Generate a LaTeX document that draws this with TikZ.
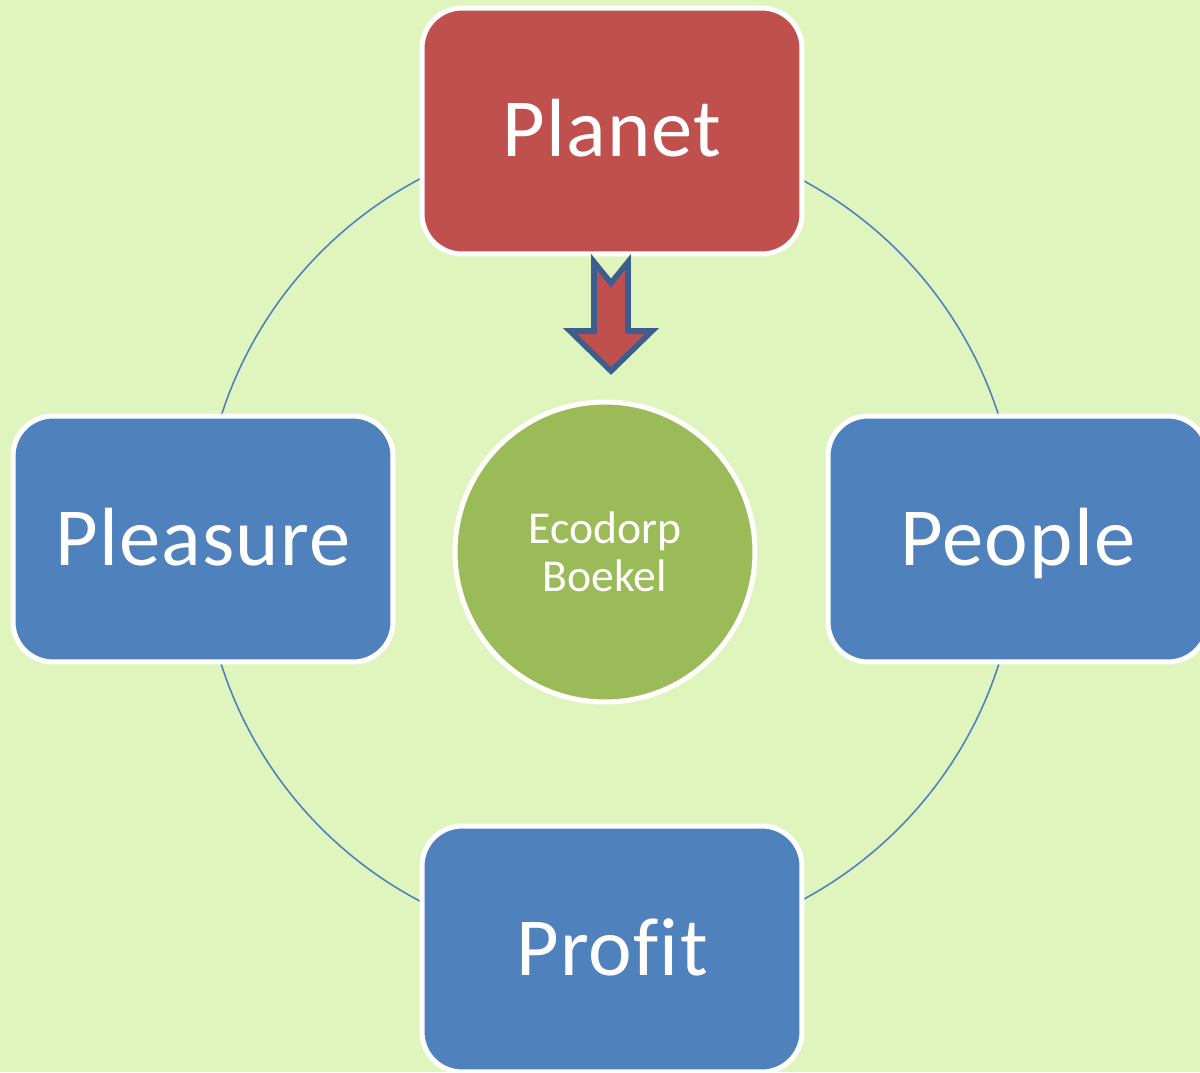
\documentclass[tikz,border=0pt]{standalone}
\usepackage{fontspec}
\setmainfont{Carlito}
\newfontfamily\pfont{Carlito}[Ligatures=NoCommon, LetterSpace=1.5]
\definecolor{bgGreen}{HTML}{E0F5BE}
\definecolor{planetRed}{HTML}{C0504D}
\definecolor{boxBlue}{HTML}{4F81BD}
\definecolor{coreGreen}{HTML}{9BBB59}
\definecolor{arrowEdge}{HTML}{3B5E8E}
\tikzset{
  pillar/.style={draw=white, line width=0.1cm, rounded corners=0.8cm,
    minimum width=7.6cm, minimum height=4.92cm, text=white,
    text height=1.3cm, text depth=0.26cm,
    font=\pfont\fontsize{47}{56}\selectfont},
  core/.style={circle, draw=white, line width=0.1cm, fill=coreGreen,
    minimum size=6cm, text=white, align=center,
    font=\fontsize{26}{27.5}\selectfont}
}
\begin{document}
\begin{tikzpicture}[x=0.02cm, y=-0.02cm]
  % achtergrond
  \fill[bgGreen] (0,0) rectangle (1200,1072);
  \useasboundingbox (0,0) rectangle (1200,1072);
  \clip (0,0) rectangle (1200,1072);

  % ring achter de blokken
  \draw[boxBlue, line width=0.9pt] (610,540) circle (408);

  % de vier P's
  \node[pillar, fill=planetRed] (planet) at (612,131) {Planet};
  \node[pillar, fill=boxBlue] (pleasure) at (203,539) {Pleasure};
  \node[pillar, fill=boxBlue] (people) at (1018,539) {People};
  \node[pillar, fill=boxBlue] (profit) at (612,949) {Profit};

  % het midden
  \node[core] (ecodorp) at (605,552) {Ecodorp\\Boekel};

  % blokpijl van Planet naar het midden
  \draw[arrowEdge, line width=3.2pt, fill=planetRed, line join=miter]
    (594,262) -- (611,283) -- (628,262) -- (628,331) -- (652,331)
    -- (611,371) -- (570,331) -- (594,331) -- cycle;
\end{tikzpicture}
\end{document}
